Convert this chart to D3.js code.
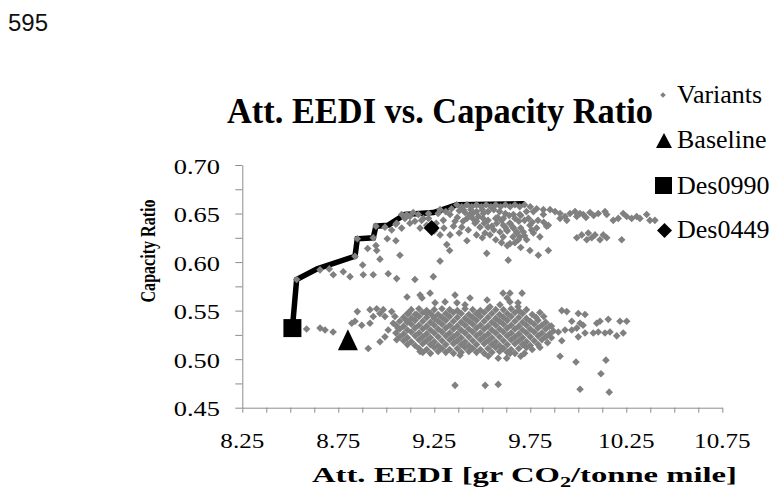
<!DOCTYPE html>
<html><head><meta charset="utf-8">
<script src="https://cdn.jsdelivr.net/npm/d3@7"></script>
<style>body{margin:0;background:#fff}svg{display:block}</style>
</head><body>
<svg id="c" width="773" height="492"></svg>
<script>
const pageNumber = "595";
const chartTitle = "Att. EEDI vs. Capacity Ratio";
const yTitle = "Capacity Ratio";
const xMajor = [8.25, 8.75, 9.25, 9.75, 10.25, 10.75];
const xMinor = [8.25,8.375,8.5,8.625,8.75,8.875,9,9.125,9.25,9.375,9.5,9.625,9.75,9.875,10,10.125,10.25,10.375,10.5,10.625,10.75];
const yMajor = [0.45, 0.50, 0.55, 0.60, 0.65, 0.70];
const yMinor = [0.45,0.475,0.5,0.525,0.55,0.575,0.6,0.625,0.65,0.675,0.7];
const legendLabels = ["Variants", "Baseline", "Des0990", "Des0449"];

const frontier = [[8.511,0.532],[8.533,0.582],[8.64,0.593],[8.837,0.606],[8.849,0.624],[8.932,0.625],[8.946,0.637],[9.01,0.638],[9.097,0.649],[9.245,0.651],[9.367,0.659],[9.72,0.660]];
const baselinePt = [[8.80, 0.520]];
const des0990 = [[8.511, 0.532]];
const des0449 = [[9.236, 0.635]];

const variantsUpper = [
[8.533,0.582],[8.655,0.592],[8.703,0.593],[8.724,0.587],[8.776,0.590],[8.811,0.585],[8.837,0.606],[8.880,0.587],[8.932,0.587],[9.010,0.588],[9.054,0.583],[9.149,0.582],[9.245,0.585],
[8.877,0.597],[8.967,0.603],[9.071,0.607],[8.903,0.614],[8.946,0.617],[8.950,0.612],
[8.849,0.624],[8.932,0.625],[9.005,0.624],[9.050,0.622],
[8.946,0.637],[8.993,0.636],[9.028,0.633],[9.054,0.640],[9.080,0.635],[9.097,0.645],[9.106,0.649],[9.123,0.640],[9.149,0.642],[9.193,0.645],[9.210,0.638],[9.176,0.635],[9.080,0.649],[9.123,0.647],[9.167,0.649],[9.184,0.643],[9.220,0.650],
[9.280,0.628],[9.315,0.618],[9.332,0.628],[9.280,0.601],[9.523,0.609],[9.635,0.602],
[9.270,0.650],[9.297,0.643],[9.332,0.649],[9.358,0.642],[9.401,0.654],[9.436,0.649],[9.393,0.636],[9.427,0.633],[9.462,0.640],[9.505,0.650],[9.505,0.645],[9.514,0.630],[9.488,0.636],[9.575,0.640],[9.592,0.631],[9.609,0.626],[9.644,0.640],[9.679,0.630],
[9.367,0.659],[9.393,0.657],[9.420,0.659],[9.445,0.657],[9.470,0.659],[9.495,0.657],[9.520,0.659],[9.545,0.657],[9.570,0.659],[9.595,0.657],[9.620,0.659],[9.645,0.657],[9.670,0.659],[9.695,0.657],[9.720,0.659],[9.750,0.657],[9.783,0.655],
[9.380,0.653],[9.410,0.651],[9.440,0.654],[9.470,0.652],[9.500,0.654],[9.530,0.652],[9.560,0.654],[9.590,0.652],[9.620,0.650],[9.662,0.649],[9.696,0.649],[9.730,0.652],[9.766,0.652],[9.818,0.649],
[9.450,0.645],[9.470,0.642],[9.530,0.643],[9.550,0.637],[9.570,0.645],[9.620,0.636],[9.600,0.643],[9.660,0.636],[9.690,0.642],[9.700,0.635],[9.540,0.628],[9.560,0.633],[9.630,0.632],[9.660,0.626],
[9.450,0.650],[9.480,0.647],[9.510,0.640],[9.530,0.636],[9.580,0.646],[9.610,0.645],[9.640,0.648],[9.670,0.645],[9.700,0.648],[9.720,0.643],[9.740,0.645],[9.760,0.641],[9.790,0.643],[9.820,0.641],
[9.470,0.628],[9.500,0.625],[9.570,0.623],[9.600,0.620],[9.630,0.617],[9.670,0.620],[9.700,0.615],[9.720,0.627],[9.420,0.645],[9.400,0.642],[9.370,0.646],[9.350,0.637],[9.380,0.630],[9.300,0.635],[9.260,0.640],[9.250,0.632],[9.330,0.612],[9.420,0.622],
[9.280,0.654],[9.310,0.652],[9.340,0.655],[9.220,0.645],[9.140,0.651],[9.050,0.639],
[9.818,0.654],[9.853,0.654],[9.879,0.652],[9.905,0.650],[9.931,0.647],[9.957,0.650],[9.983,0.652],[10.009,0.650],[10.026,0.649],[10.061,0.651],[10.104,0.650],[10.139,0.652],[10.148,0.649],[10.182,0.643],[10.208,0.645],[10.234,0.650],[10.252,0.647],[10.278,0.645],[10.304,0.647],[10.321,0.645],[10.356,0.649],[10.373,0.643],[10.399,0.643],
[9.905,0.645],[9.940,0.643],[9.992,0.647],[10.040,0.646],[10.080,0.648],
[9.610,0.638],[9.627,0.633],[9.644,0.640],[9.662,0.635],[9.679,0.631],[9.696,0.626],[9.714,0.631],[9.731,0.623],[9.748,0.638],[9.757,0.633],[9.766,0.630],[9.783,0.635],[9.800,0.626],[9.835,0.637],[9.844,0.638],[9.644,0.619],[9.688,0.623],[9.748,0.612],[9.792,0.607],[9.844,0.612],
[9.992,0.625],[10.018,0.628],[10.044,0.623],[10.070,0.625],[10.087,0.628],[10.113,0.623],[10.130,0.628],[10.148,0.625],[10.052,0.630],[10.226,0.623]
];

const variantsLowerEdge = [
[8.585,0.531],[8.655,0.532],[8.681,0.530],[8.723,0.528],
[8.849,0.549],[8.820,0.537],[8.837,0.539],[8.872,0.535],[8.915,0.537],[8.906,0.511],
[8.915,0.551],[8.950,0.552],[8.984,0.551],[8.932,0.544],[8.967,0.547],[8.993,0.544],[9.028,0.549],[9.045,0.544],
[8.967,0.518],[8.993,0.523],[9.010,0.530],[9.036,0.537],[9.061,0.532],[9.054,0.520],
[9.115,0.547],[9.158,0.546],[9.210,0.547],[9.245,0.544],[9.106,0.540],
[9.108,0.564],[9.176,0.566],[9.228,0.568],[9.186,0.563],[9.254,0.558],[9.306,0.559],[9.358,0.566],[9.368,0.558],[9.410,0.556],[9.436,0.563],[9.525,0.561],[9.540,0.554],[9.592,0.556],[9.644,0.568],[9.644,0.559],[9.686,0.554],[9.608,0.568],[9.707,0.568],[9.629,0.563],[9.686,0.558],
[9.176,0.508],[9.384,0.504],[9.531,0.503],[9.583,0.501],[9.627,0.501],[9.644,0.506],
[9.358,0.473],[9.515,0.473],[9.583,0.474],[10.009,0.469],[10.161,0.466],
[9.914,0.550],[9.940,0.549],[10.000,0.547],[10.035,0.546],[9.966,0.539],[10.009,0.537],[10.025,0.535],[10.096,0.537],[10.113,0.539],[10.156,0.541],[10.217,0.539],[10.252,0.539],[9.896,0.528],[9.931,0.530],[9.966,0.530],[9.992,0.532],[10.035,0.527],[10.078,0.527],[10.104,0.528],[10.139,0.527],[10.165,0.528],[10.200,0.524],[10.234,0.527],[9.914,0.519],[10.000,0.523],[9.905,0.503],[9.988,0.497],[10.144,0.499],[10.118,0.485],
[9.80,0.548],[9.82,0.544],[9.86,0.534],[9.87,0.529],[9.86,0.522],[9.84,0.517],[9.80,0.512],[9.76,0.510],[9.72,0.506],[9.70,0.503]
];

const variantsCore = [
[9.13,0.551],[9.17,0.552],[9.21,0.550],[9.25,0.551],[9.29,0.552],[9.33,0.551],[9.37,0.550],[9.41,0.552],[9.45,0.551],[9.49,0.550],[9.53,0.552],[9.57,0.551],[9.61,0.551],[9.65,0.552],[9.69,0.550],[9.73,0.551],
[9.11,0.547],[9.15,0.546],[9.19,0.548],[9.23,0.547],[9.27,0.546],[9.31,0.547],[9.35,0.548],[9.39,0.547],[9.43,0.546],[9.47,0.547],[9.51,0.548],[9.55,0.547],[9.59,0.546],[9.63,0.547],[9.67,0.548],[9.71,0.547],[9.76,0.546],
[9.09,0.543],[9.13,0.542],[9.17,0.544],[9.21,0.543],[9.25,0.542],[9.29,0.543],[9.33,0.544],[9.37,0.543],[9.41,0.542],[9.45,0.543],[9.49,0.544],[9.53,0.543],[9.57,0.542],[9.61,0.543],[9.65,0.544],[9.69,0.543],[9.73,0.542],[9.78,0.543],
[9.07,0.539],[9.11,0.538],[9.15,0.540],[9.19,0.539],[9.23,0.538],[9.27,0.539],[9.31,0.540],[9.35,0.539],[9.39,0.538],[9.43,0.539],[9.47,0.540],[9.51,0.539],[9.55,0.538],[9.59,0.539],[9.63,0.540],[9.67,0.539],[9.71,0.538],[9.75,0.539],[9.79,0.540],[9.83,0.538],
[9.05,0.535],[9.09,0.534],[9.13,0.536],[9.17,0.535],[9.21,0.534],[9.25,0.535],[9.29,0.536],[9.33,0.535],[9.37,0.534],[9.41,0.535],[9.45,0.536],[9.49,0.535],[9.53,0.534],[9.57,0.535],[9.61,0.536],[9.65,0.535],[9.69,0.534],[9.73,0.535],[9.77,0.536],[9.81,0.535],[9.85,0.534],
[9.07,0.531],[9.11,0.530],[9.15,0.532],[9.19,0.531],[9.23,0.530],[9.27,0.531],[9.31,0.532],[9.35,0.531],[9.39,0.530],[9.43,0.531],[9.47,0.532],[9.51,0.531],[9.55,0.530],[9.59,0.531],[9.63,0.532],[9.67,0.531],[9.71,0.530],[9.75,0.531],[9.79,0.532],[9.83,0.531],
[9.05,0.527],[9.09,0.526],[9.13,0.528],[9.17,0.527],[9.21,0.526],[9.25,0.527],[9.29,0.528],[9.33,0.527],[9.37,0.526],[9.41,0.527],[9.45,0.528],[9.49,0.527],[9.53,0.526],[9.57,0.527],[9.61,0.528],[9.65,0.527],[9.69,0.526],[9.73,0.527],[9.77,0.528],[9.81,0.527],[9.85,0.526],
[9.07,0.523],[9.11,0.522],[9.15,0.524],[9.19,0.523],[9.23,0.522],[9.27,0.523],[9.31,0.524],[9.35,0.523],[9.39,0.522],[9.43,0.523],[9.47,0.524],[9.51,0.523],[9.55,0.522],[9.59,0.523],[9.63,0.524],[9.67,0.523],[9.71,0.522],[9.75,0.523],[9.79,0.524],[9.83,0.523],
[9.09,0.519],[9.13,0.518],[9.17,0.520],[9.21,0.519],[9.25,0.518],[9.29,0.519],[9.33,0.520],[9.37,0.519],[9.41,0.518],[9.45,0.519],[9.49,0.520],[9.53,0.519],[9.57,0.518],[9.61,0.519],[9.65,0.520],[9.69,0.519],[9.73,0.518],[9.77,0.519],[9.81,0.520],
[9.11,0.515],[9.15,0.514],[9.19,0.516],[9.23,0.515],[9.27,0.514],[9.31,0.515],[9.35,0.516],[9.39,0.515],[9.43,0.514],[9.47,0.515],[9.51,0.516],[9.55,0.515],[9.59,0.514],[9.63,0.515],[9.67,0.516],[9.71,0.515],[9.75,0.514],[9.79,0.515],
[9.17,0.511],[9.21,0.510],[9.25,0.512],[9.29,0.511],[9.33,0.510],[9.37,0.511],[9.41,0.512],[9.45,0.511],[9.49,0.510],[9.53,0.511],[9.57,0.512],[9.61,0.511],[9.65,0.510],[9.69,0.511],[9.73,0.512],
[9.19,0.507],[9.23,0.506],[9.27,0.508],[9.31,0.507],[9.35,0.506],[9.39,0.507],[9.43,0.508],[9.47,0.507],[9.51,0.506],[9.55,0.507],[9.59,0.508],[9.63,0.507],[9.67,0.506]
];

const variants = variantsUpper.concat(variantsLowerEdge, variantsCore);

const svg = d3.select("#c");
svg.append("rect").attr("width", 773).attr("height", 492).attr("fill", "#fff");

const x = d3.scaleLinear().domain([8.25, 10.75]).range([242.3, 722.3]);
const y = d3.scaleLinear().domain([0.45, 0.70]).range([407.7, 165]);

const axisColor = "#8c8c8c";
const serif = "'Liberation Serif','Times New Roman',serif";

// page number
svg.append("text").attr("x", 8).attr("y", 31)
  .attr("font-family", "'Liberation Sans',Arial,sans-serif").attr("font-size", 24)
  .attr("fill", "#111").text(pageNumber);

// axes
const gx = svg.append("g").attr("transform", `translate(0,${y(0.45)})`)
  .call(d3.axisBottom(x).tickValues(xMinor).tickSize(5).tickSizeOuter(0).tickFormat(""));
const gy = svg.append("g").attr("transform", `translate(${x(8.25)},0)`)
  .call(d3.axisLeft(y).tickValues(yMinor).tickSize(7).tickSizeOuter(0).tickFormat(""));
[gx, gy].forEach(g => {
  g.selectAll("path.domain").attr("stroke", axisColor).attr("stroke-width", 1);
  g.selectAll(".tick line").attr("stroke", axisColor).attr("stroke-width", 1);
});

// tick labels
svg.append("g").selectAll("text").data(xMajor).join("text")
  .attr("transform", d => `translate(${x(d)},448) scale(1.14,1)`)
  .attr("text-anchor", "middle").attr("font-family", serif).attr("font-size", 22)
  .attr("fill", "#000").text(d => d.toFixed(2));
svg.append("g").selectAll("text").data(yMajor).join("text")
  .attr("transform", d => `translate(220,${y(d) + 8.5}) scale(1.2,1)`)
  .attr("text-anchor", "end").attr("font-family", serif).attr("font-size", 22)
  .attr("fill", "#000").text(d => d.toFixed(2));

// titles
svg.append("text").attr("x", 227).attr("y", 123)
  .attr("font-family", serif).attr("font-weight", "bold").attr("font-size", 35)
  .attr("textLength", 426).attr("lengthAdjust", "spacingAndGlyphs")
  .attr("fill", "#000").text(chartTitle);

const xt = svg.append("text").attr("x", 312).attr("y", 482)
  .attr("font-family", serif).attr("font-weight", "bold").attr("font-size", 22)
  .attr("textLength", 425).attr("lengthAdjust", "spacingAndGlyphs").attr("fill", "#000");
xt.append("tspan").text("Att. EEDI [gr CO");
xt.append("tspan").attr("font-size", 15).attr("dy", 5).text("2");
xt.append("tspan").attr("dy", -5).text("/tonne mile]");

svg.append("text").attr("transform", "translate(154.5,251) scale(1.1,1) rotate(-90)")
  .attr("text-anchor", "middle").attr("font-family", serif).attr("font-weight", "bold")
  .attr("font-size", 20).attr("textLength", 103).attr("lengthAdjust", "spacingAndGlyphs")
  .attr("fill", "#000").text(yTitle);

// frontier line
svg.append("path").datum(frontier)
  .attr("d", d3.line().x(d => x(d[0])).y(d => y(d[1])))
  .attr("fill", "none").attr("stroke", "#000").attr("stroke-width", 5.5)
  .attr("stroke-linejoin", "miter");

const diamond = r => `M0,${-r}L${r},0L0,${r}L${-r},0Z`;

// variants
svg.append("g").selectAll("path").data(variants).join("path")
  .attr("d", diamond(3.8))
  .attr("transform", d => `translate(${x(d[0])},${y(d[1])})`)
  .attr("fill", "#808080");

// markers
const tri = (w, h) => `M0,${-h * 0.5}L${w / 2},${h * 0.5}L${-w / 2},${h * 0.5}Z`;
svg.append("g").selectAll("path").data(baselinePt).join("path")
  .attr("d", tri(20, 21))
  .attr("transform", d => `translate(${x(d[0])},${y(d[1])})`).attr("fill", "#000");
svg.append("g").selectAll("rect").data(des0990).join("rect")
  .attr("x", d => x(d[0]) - 9).attr("y", d => y(d[1]) - 9)
  .attr("width", 18).attr("height", 18).attr("fill", "#000");
svg.append("g").selectAll("path").data(des0449).join("path")
  .attr("d", diamond(8))
  .attr("transform", d => `translate(${x(d[0])},${y(d[1])})`).attr("fill", "#000");

// legend
const lg = svg.append("g");
const legendBase = [103, 148, 194, 238];
lg.append("path").attr("d", diamond(2.8)).attr("transform", "translate(663,95)").attr("fill", "#808080");
lg.append("path").attr("d", tri(16, 15)).attr("transform", "translate(664,140.5)").attr("fill", "#000");
lg.append("rect").attr("x", 655).attr("y", 177).attr("width", 17).attr("height", 17).attr("fill", "#000");
lg.append("path").attr("d", diamond(7.5)).attr("transform", "translate(664.5,230.5)").attr("fill", "#000");
lg.selectAll("text").data(legendLabels).join("text")
  .attr("x", 677).attr("y", (d, i) => legendBase[i])
  .attr("font-family", serif).attr("font-size", 26).attr("fill", "#000").text(d => d);
</script>
</body></html>
